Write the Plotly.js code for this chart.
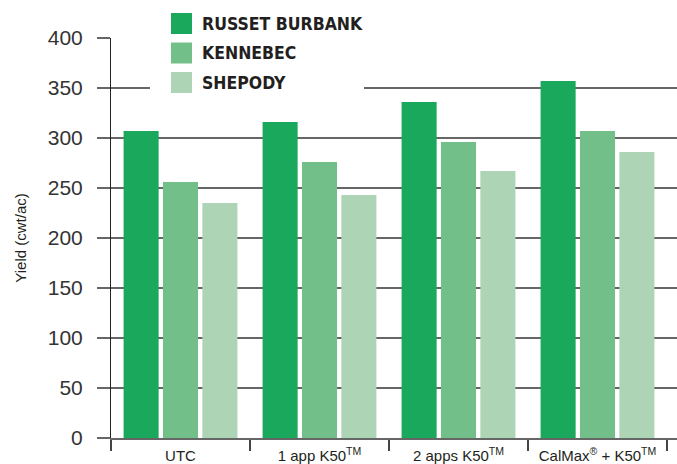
<!DOCTYPE html>
<html><head><meta charset="utf-8">
<script src="https://cdn.plot.ly/plotly-3.0.1.min.js"></script>
<style>html,body{margin:0;padding:0;background:#fff}</style>
</head><body>
<div id="chart" style="width:677px;height:464px"></div>
<script>
var categories = ["UTC", "1 app K50<sup>TM</sup>", "2 apps K50<sup>TM</sup>", "CalMax<sup>®</sup> + K50<sup>TM</sup>"];
var seriesNames = ["RUSSET BURBANK", "KENNEBEC", "SHEPODY"];
var russetBurbank = [307, 316, 336, 357];
var kennebec = [256, 276, 296, 307];
var shepody = [235, 243, 267, 286];
var colors = ["#1aa85c", "#72bf8a", "#add4b5"];
var yTicks = [0, 50, 100, 150, 200, 250, 300, 350, 400];

var W = 677, H = 464, ML = 111, MR = 0, MT = 38, MB = 26;
var pw = W - ML - MR, ph = H - MT - MB;
function px(x) { return (x - ML) / pw; }
function py(y) { return (H - MB - y) / ph; }

var values = [russetBurbank, kennebec, shepody];
var traces = values.map(function (v, i) {
  return { type: "bar", x: categories, y: v, name: seriesNames[i],
           marker: { color: colors[i], line: { width: 0 } }, showlegend: false, hoverinfo: "none" };
});

var shapes = [{ type: "rect", xref: "paper", yref: "paper", x0: px(150), x1: px(364), y0: py(100), y1: py(0),
                fillcolor: "#ffffff", line: { width: 0 }, layer: "above" }];
var annotations = [];
var legTop = [13, 42.5, 72];
seriesNames.forEach(function (n, i) {
  shapes.push({ type: "rect", xref: "paper", yref: "paper", x0: px(171), x1: px(192),
                y0: py(legTop[i] + 21), y1: py(legTop[i]), fillcolor: colors[i], line: { width: 0 }, layer: "above" });
  annotations.push({ xref: "paper", yref: "paper", x: px(200), y: py(legTop[i] + 11), xanchor: "left", yanchor: "middle",
                     text: "<b>" + n + "</b>", showarrow: false,
                     font: { family: "DejaVu Sans Condensed, Liberation Sans", size: 17.5, color: "#231f20" } });
});

var catW = 139;
var layout = {
  width: W, height: H,
  margin: { l: ML, r: MR, t: MT, b: MB, pad: 0 },
  paper_bgcolor: "#fff", plot_bgcolor: "#fff",
  barmode: "group", bargap: 0.15, bargroupgap: 0.11,
  font: { family: "Liberation Sans, Arial, sans-serif", color: "#333" },
  xaxis: { type: "category", range: [-0.5, -0.5 + pw / catW], tickson: "boundaries",
           ticks: "outside", ticklen: 11, tickwidth: 1.5, tickcolor: "#444", tickangle: 0, ticklabelstandoff: 3,
           showline: true, linecolor: "#666", linewidth: 2, showgrid: false, zeroline: false,
           tickfont: { family: "Liberation Sans, Arial", size: 15, color: "#231f20" }, fixedrange: true },
  yaxis: { range: [0, 400], tickvals: yTicks, ticktext: yTicks.map(String),
           ticks: "outside", ticklen: 13, tickwidth: 2, tickcolor: "#666", ticklabelstandoff: 10,
           showgrid: true, gridcolor: "#666", gridwidth: 2, zeroline: false,
           showline: true, linecolor: "#222", linewidth: 1,
           tickfont: { family: "Liberation Sans, Arial", size: 21, color: "#333" },
           title: { text: "Yield (cwt/ac)", font: { family: "Liberation Sans, Arial", size: 15, color: "#231f20" }, standoff: 17 },
           fixedrange: true },
  shapes: shapes, annotations: annotations
};
Plotly.newPlot("chart", traces, layout, { staticPlot: true, displayModeBar: false });
</script>
</body></html>
